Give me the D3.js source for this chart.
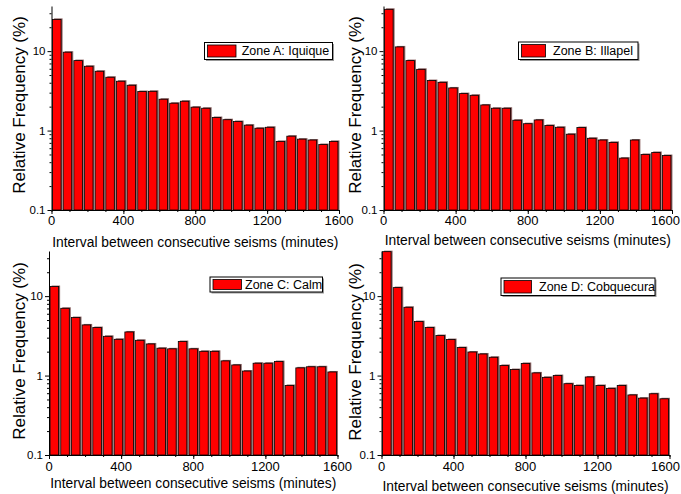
<!DOCTYPE html>
<html>
<head>
<meta charset="utf-8">
<script src="https://cdn.jsdelivr.net/npm/d3@7"></script>
<style>
  body { margin: 0; background: #fff; }
  svg { font-family: "Liberation Sans", Arial, sans-serif; }
  .axis path, .axis line { stroke: #000; stroke-width: 1; }
  .axis text { fill: #000; }
</style>
</head>
<body>
<script>
// relative frequency (%) per interval bin
const zoneNames = ['Zone A: Iquique', 'Zone B: Illapel', 'Zone C: Calm', 'Zone D: Cobquecura']

const zoneA = [25.1, 9.7, 7.6, 6.45, 5.58, 4.69, 4.18, 3.72, 3.1, 3.12, 2.48, 2.21, 2.34, 1.97,
  1.91, 1.46, 1.37, 1.3, 1.17, 1.07, 1.1, 0.73, 0.85, 0.78, 0.76, 0.667, 0.73]
const zoneB = [33.6, 11.3, 7.6, 5.9, 4.26, 4.05, 3.44, 2.92, 2.78, 2.1, 1.91, 1.91, 1.35, 1.22,
  1.36, 1.16, 1.1, 0.9, 1.09, 0.8, 0.76, 0.71, 0.45, 0.76, 0.5, 0.53, 0.485]
const zoneC = [13.2, 7.03, 5.37, 4.34, 4.02, 3.12, 2.86, 3.54, 2.78, 2.5, 2.21, 2.17, 2.68, 2.17,
  2.02, 2.02, 1.53, 1.36, 1.14, 1.43, 1.43, 1.5, 0.75, 1.25, 1.29, 1.29, 1.11]
const zoneD = [36.3, 12.8, 7.24, 4.78, 4.02, 3.19, 2.84, 2.25, 1.98, 1.87, 1.7, 1.34, 1.19, 1.42,
  1.08, 0.95, 1.0, 0.79, 0.75, 0.96, 0.75, 0.69, 0.75, 0.57, 0.52, 0.59, 0.51]

const xTicks = [0, 400, 800, 1200, 1600]
const yTicks = [0.1, 1, 10]
const xLabel = 'Interval between consecutive seisms (minutes)'
const yLabel = 'Relative Frequency (%)'

const zones = [zoneA, zoneB, zoneC, zoneD]
const binCount = zoneA.length
const binW = 1600 / binCount

// panel layout in pixels
const panels = [
  {x0: 51.5, x1: 339, yTop: 6, yBot: 210, ylx: 25, yly: 105, xly: 246.5, tly: 224.5,
    leg: {x: 204.5, y: 42.5, w: 128, h: 17, sw: 28.5, tx: 241.7}},
  {x0: 383.5, x1: 672, yTop: 6, yBot: 210, ylx: 361, yly: 105, xly: 245, tly: 225,
    leg: {x: 518.5, y: 42, w: 119.5, h: 17.5, sw: 24, tx: 553}},
  {x0: 49, x1: 337.5, yTop: 251, yBot: 455, ylx: 25, yly: 351, xly: 487.5, tly: 470.5,
    leg: {x: 210, y: 277, w: 112.5, h: 15, sw: 28.5, tx: 245}},
  {x0: 381.5, x1: 669.5, yTop: 251, yBot: 455, ylx: 361, yly: 352, xly: 490.5, tly: 470.5,
    leg: {x: 501, y: 278, w: 154, h: 17.5, sw: 27.5, tx: 539}}
]

const svg = d3.select('body').append('svg')
  .attr('width', 681)
  .attr('height', 494)

svg.append('rect').attr('width', 681).attr('height', 494).attr('fill', '#fff')

const minorY = []
;[0.1, 1, 10].forEach(d => {
  for (let k = 2; k <= 9; k++) {
    if (d * k <= 37) minorY.push(d * k)
  }
})

panels.forEach((p, i) => {
  const data = zones[i]
  const g = svg.append('g')

  const xScale = d3.scaleLinear().domain([0, 1600]).range([p.x0, p.x1])
  const yScale = d3.scaleLog().domain([0.1, 37]).range([p.yBot, p.yTop])

  const bars = g.append('g')
  const bw = (xScale(binW) - xScale(0)) * 0.8

  // shadow behind each bar
  bars.selectAll('rect.shadow')
    .data(data)
    .enter()
    .append('rect')
    .attr('class', 'shadow')
    .attr('x', (d, j) => xScale((j + 0.5) * binW) - bw / 2 + 1.5)
    .attr('y', d => yScale(d) - 1)
    .attr('width', bw)
    .attr('height', d => p.yBot - yScale(d) + 1)
    .attr('fill', '#8c6464')

  bars.selectAll('rect.bar')
    .data(data)
    .enter()
    .append('rect')
    .attr('class', 'bar')
    .attr('x', (d, j) => xScale((j + 0.5) * binW) - bw / 2)
    .attr('y', d => yScale(d))
    .attr('width', bw)
    .attr('height', d => p.yBot - yScale(d))
    .attr('fill', '#ff0000')
    .attr('stroke', '#000')
    .attr('stroke-width', 0.8)

  // x axis
  g.append('g')
    .attr('class', 'axis')
    .attr('transform', `translate(0,${p.yBot})`)
    .call(d3.axisBottom(xScale).tickValues(d3.range(0, 1601, 100)).tickSize(2).tickFormat(''))
    .call(a => a.select('.domain').remove())
  const xa = g.append('g')
    .attr('class', 'axis')
    .attr('transform', `translate(0,${p.yBot})`)
    .call(d3.axisBottom(xScale).tickValues(xTicks).tickSizeInner(4).tickSizeOuter(0).tickPadding(3))
  xa.selectAll('text').remove()
  g.append('g').selectAll('text')
    .data(xTicks)
    .enter()
    .append('text')
    .attr('y', p.tly)
    .attr('font-size', 13)
    .text(d => d)
    .attr('x', function(d) {
      const w = this.getComputedTextLength()
      return Math.min(xScale(d) - w / 2, 680 - w)
    })

  // y axis
  g.append('g')
    .attr('class', 'axis')
    .attr('transform', `translate(${p.x0},0)`)
    .call(d3.axisLeft(yScale).tickValues(minorY).tickSize(2).tickFormat(''))
    .call(a => a.select('.domain').remove())
  g.append('g')
    .attr('class', 'axis')
    .attr('transform', `translate(${p.x0},0)`)
    .call(d3.axisLeft(yScale).tickValues(yTicks).tickSizeInner(4).tickSizeOuter(0).tickPadding(2)
      .tickFormat(d => String(d)))
    .call(a => a.selectAll('text').attr('font-size', 11.5).attr('font-family', null))

  // axis titles
  g.append('text')
    .attr('transform', `translate(${p.ylx},${p.yly}) rotate(-90)`)
    .attr('text-anchor', 'middle')
    .attr('font-size', 17)
    .text(yLabel)

  g.append('text')
    .attr('x', (p.x0 + p.x1) / 2)
    .attr('y', p.xly)
    .attr('text-anchor', 'middle')
    .attr('font-size', 13.8)
    .text(xLabel)

  // legend
  const l = p.leg
  g.append('rect')
    .attr('x', l.x + 1.5).attr('y', l.y + 1.5)
    .attr('width', l.w).attr('height', l.h)
    .attr('fill', '#999')
  g.append('rect')
    .attr('x', l.x).attr('y', l.y)
    .attr('width', l.w).attr('height', l.h)
    .attr('fill', '#fff').attr('stroke', '#000').attr('stroke-width', 1)
  g.append('rect')
    .attr('x', l.x + 3).attr('y', l.y + 2.5)
    .attr('width', l.sw).attr('height', l.h - 5)
    .attr('fill', '#ff0000').attr('stroke', '#000').attr('stroke-width', 0.8)
  g.append('text')
    .attr('x', l.tx)
    .attr('y', l.y + l.h / 2 + 4.4)
    .attr('font-size', 12.5)
    .text(zoneNames[i])
})
</script>
</body>
</html>
